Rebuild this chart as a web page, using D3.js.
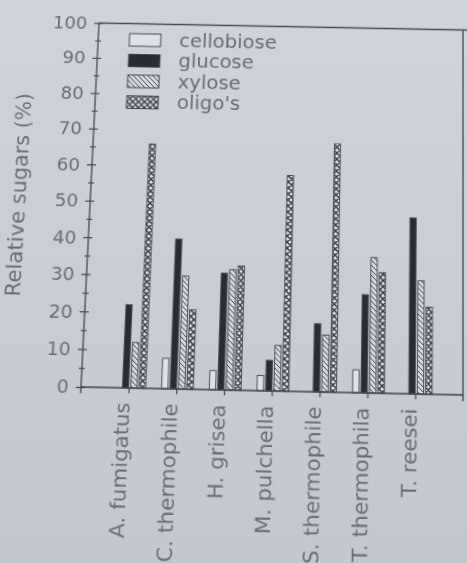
<!DOCTYPE html>
<html>
<head>
<meta charset="utf-8">
<script src="https://cdn.jsdelivr.net/npm/d3@7"></script>
<style>
  html, body {
    margin: 0; padding: 0; width: 467px; height: 563px; overflow: hidden;
    background: linear-gradient(180deg, #cfd3da 0%, #c8ccd4 55%, #c3c7ce 100%);
  }
  svg { display: block; transform-origin: 0 0; }
  text { font-family: "DejaVu Sans", sans-serif; fill: #6a6d74; }
</style>
</head>
<body>
<svg id="chart" width="467" height="563"></svg>
<script>
// ---- data -------------------------------------------------------------
const categories = ["A. fumigatus", "C. thermophile", "H. grisea", "M. pulchella",
                    "S. thermophile", "T. thermophila", "T. reesei"];
const seriesNames = ["cellobiose", "glucose", "xylose", "oligo's"];
const cellobiose = [0, 8, 5, 4, 0, 6, 0];
const glucose    = [22, 40, 31, 8, 18, 26, 47];
const xylose     = [12, 30, 32, 12, 15, 36, 30];
const oligos     = [66, 21, 33, 58, 67, 32, 23];
const yTicks      = [0, 10, 20, 30, 40, 50, 60, 70, 80, 90, 100];
const yMinorTicks = [5, 15, 25, 35, 45, 55, 65, 75, 85, 95];
const yTitle = "Relative sugars (%)";

const seriesValues = [cellobiose, glucose, xylose, oligos];

// ---- layout -----------------------------------------------------------
const W = 467, H = 563;
const L = 90, R = 463, T = 26.5, B = 391;
const ink = "#44474e";

const svg = d3.select("#chart");

// the printed page is viewed slightly askew: map the flat plot frame
// onto the tilted quadrilateral it occupies on screen
const flatCorners = [[L, T], [R, T], [L, B], [R, B]];
const viewCorners = [[99, 23], [463, 30], [81, 387], [463, 395]];
function solveHomography(src, dst) {
  const A = [], b = [];
  for (let i = 0; i < 4; i++) {
    const [x, y] = src[i], [u, v] = dst[i];
    A.push([x, y, 1, 0, 0, 0, -x * u, -y * u]); b.push(u);
    A.push([0, 0, 0, x, y, 1, -x * v, -y * v]); b.push(v);
  }
  const n = 8;
  for (let c = 0; c < n; c++) {
    let p = c;
    for (let r = c + 1; r < n; r++) if (Math.abs(A[r][c]) > Math.abs(A[p][c])) p = r;
    [A[c], A[p]] = [A[p], A[c]]; [b[c], b[p]] = [b[p], b[c]];
    for (let r = 0; r < n; r++) {
      if (r === c) continue;
      const f = A[r][c] / A[c][c];
      for (let k = c; k < n; k++) A[r][k] -= f * A[c][k];
      b[r] -= f * b[c];
    }
  }
  return b.map((v, i) => v / A[i][i]);
}
const hm = solveHomography(flatCorners, viewCorners);
svg.style("transform",
  `matrix3d(${hm[0]},${hm[3]},0,${hm[6]},${hm[1]},${hm[4]},0,${hm[7]},0,0,1,0,${hm[2]},${hm[5]},0,1)`);

// ---- scales -----------------------------------------------------------
const x = d3.scaleLinear().domain([0, categories.length + 1]).range([L, R]);
const y = d3.scaleLinear().domain([0, 100]).range([B, T]);
const inner = d3.scaleBand().domain(seriesNames).range([-14.5, 16.5])
  .paddingInner(0.25).paddingOuter(0);

// ---- fill patterns ----------------------------------------------------
const defs = svg.append("defs");
const hatch = defs.append("pattern").attr("id", "hatch-xylose")
  .attr("patternUnits", "userSpaceOnUse").attr("width", 5).attr("height", 5);
hatch.append("rect").attr("width", 5).attr("height", 5).attr("fill", "#d6d9df");
hatch.append("path").attr("d", "M-1,-1L6,6M-1,4L1,6M4,-1L6,1")
  .attr("stroke", ink).attr("stroke-width", 1);

const cross = defs.append("pattern").attr("id", "cross-oligo")
  .attr("patternUnits", "userSpaceOnUse").attr("width", 6).attr("height", 6);
cross.append("rect").attr("width", 6).attr("height", 6).attr("fill", "#dcdfe4");
cross.append("path").attr("d", "M-1,-1L7,7M7,-1L-1,7M-1,5L1,7M5,-1L7,1M-1,1L1,-1M5,7L7,5")
  .attr("stroke", "#3b3e45").attr("stroke-width", 1.5);

const fills = ["#dee1e6", "#2a2c32", "url(#hatch-xylose)", "url(#cross-oligo)"];

// ---- bars -------------------------------------------------------------
const barLayer = svg.append("g");
seriesNames.forEach((name, s) => {
  barLayer.append("g").selectAll("rect")
    .data(seriesValues[s])
    .join("rect")
    .attr("x", (d, i) => x(i + 1) + inner(name))
    .attr("width", inner.bandwidth())
    .attr("y", d => y(d))
    .attr("height", d => y(0) - y(d))
    .attr("fill", fills[s])
    .attr("stroke", ink)
    .attr("stroke-width", 0.9);
});

// ---- frame ------------------------------------------------------------
const frame = svg.append("g").attr("stroke", ink).attr("stroke-width", 1.3).attr("fill", "none");
frame.append("line").attr("x1", L).attr("x2", W + 5).attr("y1", T).attr("y2", T);
frame.append("line").attr("x1", R).attr("x2", R).attr("y1", T).attr("y2", B + 6);
frame.append("line").attr("x1", L).attr("x2", R).attr("y1", B).attr("y2", B);
frame.append("line").attr("x1", L).attr("x2", L).attr("y1", T).attr("y2", B + 6);

// ---- y axis -----------------------------------------------------------
const yAxis = svg.append("g").attr("transform", `translate(${L},0)`)
  .call(d3.axisLeft(y).tickValues(yTicks).tickSize(5).tickPadding(7).tickFormat(d3.format("d")));
yAxis.select(".domain").remove();
yAxis.selectAll(".tick line").attr("x1", 4).attr("stroke", ink).attr("stroke-width", 1.2);
yAxis.selectAll(".tick text").style("font-size", "18.5px").attr("fill", "#6a6d74");

const yMinor = svg.append("g").attr("transform", `translate(${L},0)`)
  .call(d3.axisLeft(y).tickValues(yMinorTicks).tickSize(3).tickFormat(""));
yMinor.select(".domain").remove();
yMinor.selectAll(".tick line").attr("x1", 3).attr("stroke", ink).attr("stroke-width", 1.1);

// ---- x axis -----------------------------------------------------------
const xAxis = svg.append("g").attr("transform", `translate(0,${B})`)
  .call(d3.axisBottom(x).tickValues(d3.range(1, categories.length + 1))
    .tickSize(5).tickFormat(i => categories[i - 1]));
xAxis.select(".domain").remove();
xAxis.selectAll(".tick line").attr("stroke", ink).attr("stroke-width", 1.2);
xAxis.selectAll(".tick text")
  .attr("transform", "rotate(-90)")
  .attr("text-anchor", "end")
  .attr("x", -14).attr("y", 1).attr("dy", 0)
  .style("font-size", "20px").attr("fill", "#6a6d74");

// ---- axis title -------------------------------------------------------
svg.append("text")
  .attr("transform", `translate(25,203) rotate(-90)`)
  .attr("text-anchor", "middle")
  .style("font-size", "21px")
  .text(yTitle);

// ---- legend -----------------------------------------------------------
const legend = svg.append("g").attr("transform", `translate(${L + 32},${T + 10.5})`);
seriesNames.forEach((name, s) => {
  const row = legend.append("g").attr("transform", `translate(0,${s * 21.5})`);
  row.append("rect").attr("width", 32).attr("height", 13)
    .attr("fill", fills[s]).attr("stroke", ink).attr("stroke-width", 1);
  row.append("text").attr("x", 51).attr("y", 12.5)
    .style("font-size", "20px").text(name);
});
</script>
</body>
</html>
